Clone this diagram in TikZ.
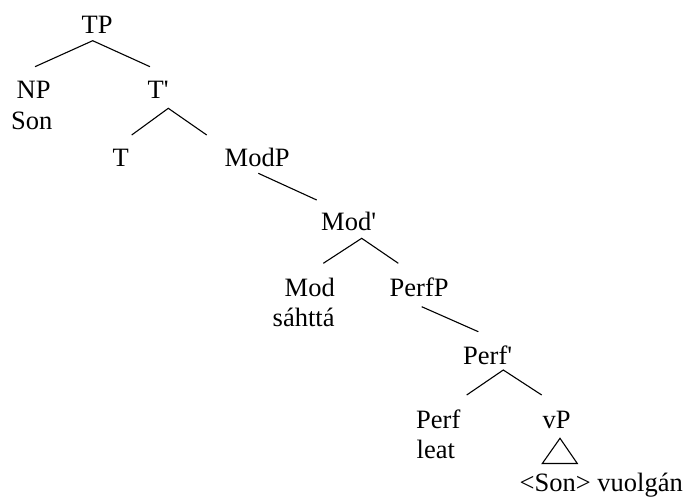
\documentclass[tikz,border=0pt]{standalone}
\usepackage{fontspec}
\setmainfont{Liberation Serif}
\begin{document}
\begin{tikzpicture}[x=1pt,y=-1pt,
  lbl/.style={anchor=base west,inner sep=0pt,font=\fontsize{26.5}{30}\selectfont},
  branch/.style={line width=1.1pt,black}]
\useasboundingbox (0,0) rectangle (685,497);
% labels
\node[lbl] (TP) at (81.5,33.3) {TP};
\node[lbl] (NP) at (16.5,98.3) {NP};
\node[lbl] (Son) at (11,129.8) {Son};
\node[lbl] (Tbar) at (147.5,98.3) {T\textquotesingle};
\node[lbl] (T) at (112.5,166.7) {T};
\node[lbl] (ModP) at (224.5,166.7) {ModP};
\node[lbl] (Modbar) at (321,230.5) {Mod\textquotesingle};
\node[lbl] (Mod) at (284.5,296) {Mod};
\node[lbl] (sahtta) at (272.5,326) {sáhttá};
\node[lbl] (PerfP) at (389.5,296) {PerfP};
\node[lbl] (Perfbar) at (463,364) {Perf\textquotesingle};
\node[lbl] (Perf) at (416,428) {Perf};
\node[lbl] (leat) at (416.5,458.5) {leat};
\node[lbl] (vP) at (542.5,428) {vP};
\node[lbl] (vPw) at (519.5,491) {<Son> vuolgán};
% branch end points
\coordinate (TP-d) at (92.7,40.7);
\coordinate (NP-u) at (35,66.7);
\coordinate (Tbar-u) at (150,66.7);
\coordinate (Tbar-d) at (168.3,108.3);
\coordinate (T-u) at (131.7,135);
\coordinate (ModP-u) at (206.7,135);
\coordinate (ModP-d) at (258.3,173.3);
\coordinate (Modbar-u) at (316.7,200);
\coordinate (Modbar-d) at (361.7,238.3);
\coordinate (Mod-u) at (323.3,263.3);
\coordinate (PerfP-u) at (398.3,263.3);
\coordinate (PerfP-d) at (421.7,306.7);
\coordinate (Perfbar-u) at (478.3,331.7);
\coordinate (Perfbar-d) at (503.3,370);
\coordinate (Perf-u) at (466.7,395);
\coordinate (vP-u) at (541.7,395);
\coordinate (tri-top) at (560,438.3);
\coordinate (tri-l) at (542.3,463.5);
\coordinate (tri-r) at (577.3,463.5);
% branches
\draw[branch] (NP-u) -- (TP-d) -- (Tbar-u);
\draw[branch] (T-u) -- (Tbar-d) -- (ModP-u);
\draw[branch] (ModP-d) -- (Modbar-u);
\draw[branch] (Mod-u) -- (Modbar-d) -- (PerfP-u);
\draw[branch] (PerfP-d) -- (Perfbar-u);
\draw[branch] (Perf-u) -- (Perfbar-d) -- (vP-u);
\draw[branch] (tri-top) -- (tri-l) -- (tri-r) -- cycle;
\end{tikzpicture}
\end{document}
